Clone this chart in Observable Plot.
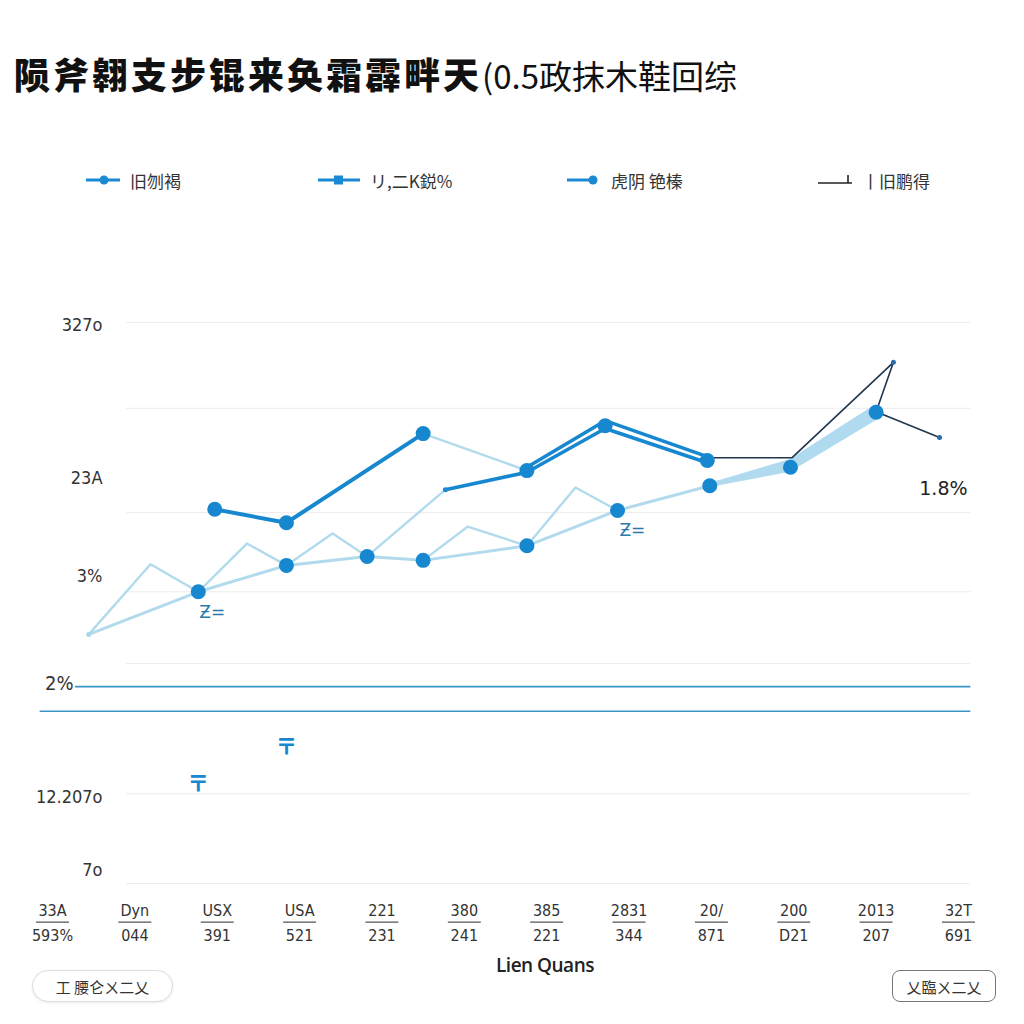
<!DOCTYPE html>
<html>
<head>
<meta charset="utf-8">
<script src="https://cdn.jsdelivr.net/npm/d3@7"></script>
<script src="https://cdn.jsdelivr.net/npm/@observablehq/plot@0.6"></script>
<style>
  html, body { margin: 0; padding: 0; background: #fff; width: 1024px; height: 1024px; overflow: hidden; }
  body { position: relative; font-family: "Noto Sans CJK SC", "Noto Sans", sans-serif; }
  #title { position: absolute; left: 14px; top: 48px; font-size: 36px; line-height: 50px; color: #111; white-space: nowrap; }
  #title .b { font-weight: 900; letter-spacing: 3px; }
  #title .l { font-weight: 400; font-size: 33px; letter-spacing: 0px; }
  .leg { position: absolute; top: 167px; height: 26px; display: flex; align-items: center; font-size: 17px; color: #333; white-space: nowrap; }
  .leg svg { margin-right: 8px; }
  #chart { position: absolute; left: 0; top: 240px; }
  #xtitle { position: absolute; left: 0; width: 1090px; top: 952px; text-align: center; font-family: "Open Sans", "Noto Sans", sans-serif; font-weight: 600; font-size: 19px; color: #222; letter-spacing: -0.5px; }
  .btn { position: absolute; box-sizing: border-box; display: flex; align-items: center; justify-content: center; font-size: 15px; color: #333; background: #fff; }
  #btnL { left: 32px; top: 970px; width: 141px; height: 32px; border: 1px solid #ddd; border-radius: 16px; box-shadow: 0 1px 3px rgba(0,0,0,0.08); }
  #btnR { left: 892px; top: 970px; width: 104px; height: 32px; border: 1.5px solid #777; border-radius: 8px; }
</style>
</head>
<body>
<div id="title"><span class="b">陨斧翱支步锟来奂霜霹畔天</span><span class="l">(0.5政抹木鞋回综</span></div>

<div class="leg" style="left:86px"><svg width="36" height="12"><line x1="0" y1="6" x2="34" y2="6" stroke="#1a8ad4" stroke-width="3"/><circle cx="18" cy="6" r="4.5" fill="#1a8ad4"/></svg>旧刎褐</div>
<div class="leg" style="left:318px"><svg width="44" height="12"><line x1="0" y1="6" x2="42" y2="6" stroke="#1a8ad4" stroke-width="3"/><rect x="16" y="1.5" width="9" height="9" fill="#1a8ad4"/></svg>リ,二K鋭%</div>
<div class="leg" style="left:567px"><svg width="36" height="12"><line x1="0" y1="6" x2="30" y2="6" stroke="#1a8ad4" stroke-width="3"/><circle cx="26" cy="6" r="4.5" fill="#1a8ad4"/></svg>虎阴 铯榛</div>
<div class="leg" style="left:818px"><svg width="36" height="14"><line x1="0" y1="10" x2="34" y2="10" stroke="#222" stroke-width="1.6"/><line x1="30" y1="2" x2="30" y2="10" stroke="#222" stroke-width="1.6"/></svg>丨旧鹏得</div>

<div id="chart"></div>
<div id="xtitle">Lien Quans</div>
<div id="btnL" class="btn">工 腰仑ㄨ二乂</div>
<div id="btnR" class="btn">乂臨ㄨ二乂</div>

<script>
// ---- categories / tick labels ----
const xLabelsTop = ["33A","Dyn","USX","USA","221","380","385","2831","20/","200","2013","32T"];
const xLabelsBottom = ["593%","044","391","521","231","241","221","344","871","D21","207","691"];
const yLabelText = ["327o","23A","3%","12.207o","7o"];
const yLabelValue = [99.5, 72.2, 54.7, 15.3, 2.3];
const yLabelLeftText = ["2%"];
const yLabelLeftValue = [35.7];
const gridValues = [100, 84.7, 66.1, 52, 39.2, 16, 0];
const refLineValues = [35.1, 30.7];
const underlineValue = -6.9;

// ---- series values ----
const zigAX = [0.44, 1.19, 1.77, 2.36, 2.84, 3.40, 3.82, 4.77];
const zigAY = [44.4, 56.9, 52.0, 60.6, 56.7, 62.4, 58.3, 70.2];
const zigBX = [4.50, 5.04, 5.76, 6.35, 6.86];
const zigBY = [57.6, 63.6, 60.2, 70.6, 66.5];
const lightX = [0.44, 1.77, 2.84, 3.82, 4.50, 5.76, 6.86, 7.98, 8.96, 10.0];
const lightY = [44.4, 52.0, 56.7, 58.3, 57.6, 60.2, 66.5, 70.9, 74.2, 84.0];
const thickA1X = [1.97, 2.84, 4.50];
const thickA1Y = [66.7, 64.3, 80.2];
const linkAX = [4.50, 5.76];
const linkAY = [80.2, 73.6];
const thickA2X = [5.76, 6.71, 7.95];
const thickA2Y = [74.2, 82.5, 76.1];
const thickBX = [4.77, 5.76, 6.71, 7.95];
const thickBY = [70.2, 73.3, 81.1, 75.0];
const navyX = [7.95, 8.98, 10.21, 10.0, 10.77];
const navyY = [75.9, 75.9, 92.9, 84.1, 79.5];
const bandX = [7.98, 8.96, 10.0];
const bandLow = [70.6, 73.3, 82.5];
const bandHigh = [71.3, 75.6, 85.4];
const dotAX = [1.97, 2.84, 4.50, 5.76, 6.71, 7.95];
const dotAY = [66.7, 64.3, 80.2, 73.6, 81.6, 75.4];
const dotCX = [1.77, 2.84, 3.82, 4.50, 5.76, 6.86, 7.98, 8.96, 10.0];
const dotCY = [52.0, 56.7, 58.3, 57.6, 60.2, 66.5, 70.9, 74.2, 84.0];
const smallDotX = [0.44, 4.77, 10.21, 10.77];
const smallDotY = [44.4, 70.2, 92.9, 79.5];
const smallDotColor = ["#a9d6ea", "#1a8ad4", "#2a6fa8", "#2a6fa8"];
const noteX = [1.94, 7.04];
const noteY = [48.3, 62.9];
const iconX = [1.77, 2.84];
const iconY = [17.8, 24.4];
const endLabel = ["1.8%"];
const endLabelX = [11.11];
const endLabelY = [70.4];

const pts = (xs, ys) => xs.map((x, i) => ({x, y: ys[i]}));
const ticks = d3.range(xLabelsTop.length);

const LIGHT = "#b1dbed";
const BLUE = "#1788d0";
const NAVY = "#1f3550";
const narrow = "'Liberation Sans Narrow', 'DejaVu Sans Condensed', 'Liberation Sans', sans-serif";

const plot = Plot.plot({
  width: 1024,
  height: 740,
  marginLeft: 52,
  marginRight: 66,
  marginTop: 82,
  marginBottom: 97,
  x: {domain: [0, 11], axis: null},
  y: {domain: [0, 100], axis: null},
  style: {background: "transparent", overflow: "visible"},
  marks: [
    Plot.ruleY(gridValues, {x1: 0.9, x2: 11.15, stroke: "#ececec", strokeWidth: 1}),
    Plot.ruleY(refLineValues, {x1: (d, i) => i === 0 ? 0.28 : -0.15, x2: 11.15, stroke: "#3b94c6", strokeWidth: 1.6}),
    Plot.text(yLabelText.map((t, i) => ({t, y: yLabelValue[i]})), {
      y: "y", text: "t", frameAnchor: "left", textAnchor: "end", dx: 50,
      fontSize: 18, fill: "#333", fontFamily: narrow
    }),
    Plot.text(yLabelLeftText.map((t, i) => ({t, y: yLabelLeftValue[i]})), {
      y: "y", text: "t", frameAnchor: "left", textAnchor: "end", dx: 21,
      fontSize: 20, fill: "#333", fontFamily: narrow
    }),
    Plot.areaY(bandX.map((x, i) => ({x, y1: bandLow[i], y2: bandHigh[i]})), {x: "x", y1: "y1", y2: "y2", fill: "#a6d6ee", fillOpacity: 0.9}),
    Plot.line(pts(zigAX, zigAY), {x: "x", y: "y", stroke: LIGHT, strokeWidth: 2.4}),
    Plot.line(pts(zigBX, zigBY), {x: "x", y: "y", stroke: LIGHT, strokeWidth: 2.4}),
    Plot.line(pts(lightX, lightY), {x: "x", y: "y", stroke: LIGHT, strokeWidth: 3}),
    Plot.line(pts(linkAX, linkAY), {x: "x", y: "y", stroke: LIGHT, strokeWidth: 2.4}),
    Plot.line(pts(navyX, navyY), {x: "x", y: "y", stroke: NAVY, strokeWidth: 1.6}),
    Plot.line(pts(thickA1X, thickA1Y), {x: "x", y: "y", stroke: BLUE, strokeWidth: 4}),
    Plot.line(pts(thickA2X, thickA2Y), {x: "x", y: "y", stroke: BLUE, strokeWidth: 3.6}),
    Plot.line(pts(thickBX, thickBY), {x: "x", y: "y", stroke: BLUE, strokeWidth: 3.6}),
    Plot.dot(pts(dotCX, dotCY), {x: "x", y: "y", r: 7.5, fill: BLUE}),
    Plot.dot(pts(dotAX, dotAY), {x: "x", y: "y", r: 7.5, fill: BLUE}),
    Plot.dot(smallDotX.map((x, i) => ({x, y: smallDotY[i], c: smallDotColor[i]})), {x: "x", y: "y", r: 2.5, fill: "c"}),
    Plot.text(pts(noteX, noteY), {x: "x", y: "y", text: () => "Ƶ=", fontSize: 17, fill: "#2d78aa", fontFamily: "DejaVu Sans"}),
    Plot.text(pts(iconX, iconY), {x: "x", y: "y", text: () => "〒", fontSize: 22, fontWeight: 900, fill: BLUE, fontFamily: "Noto Sans CJK SC"}),
    Plot.text(endLabelX.map((x, i) => ({x, y: endLabelY[i], t: endLabel[i]})), {x: "x", y: "y", text: "t", textAnchor: "end", fontSize: 19, fill: "#222", fontFamily: "'DejaVu Sans', sans-serif"}),
    Plot.text(ticks, {x: d => d, text: d => xLabelsTop[d], frameAnchor: "bottom", dy: 32, fontSize: 16, fill: "#333", fontFamily: narrow}),
    Plot.link(ticks, {x1: d => d - 0.2, x2: d => d + 0.2, y1: underlineValue, y2: underlineValue, stroke: "#555", strokeWidth: 1.2}),
    Plot.text(ticks, {x: d => d, text: d => xLabelsBottom[d], frameAnchor: "bottom", dy: 57, fontSize: 16, fill: "#333", fontFamily: narrow})
  ]
});

document.getElementById("chart").appendChild(plot);
</script>
</body>
</html>
